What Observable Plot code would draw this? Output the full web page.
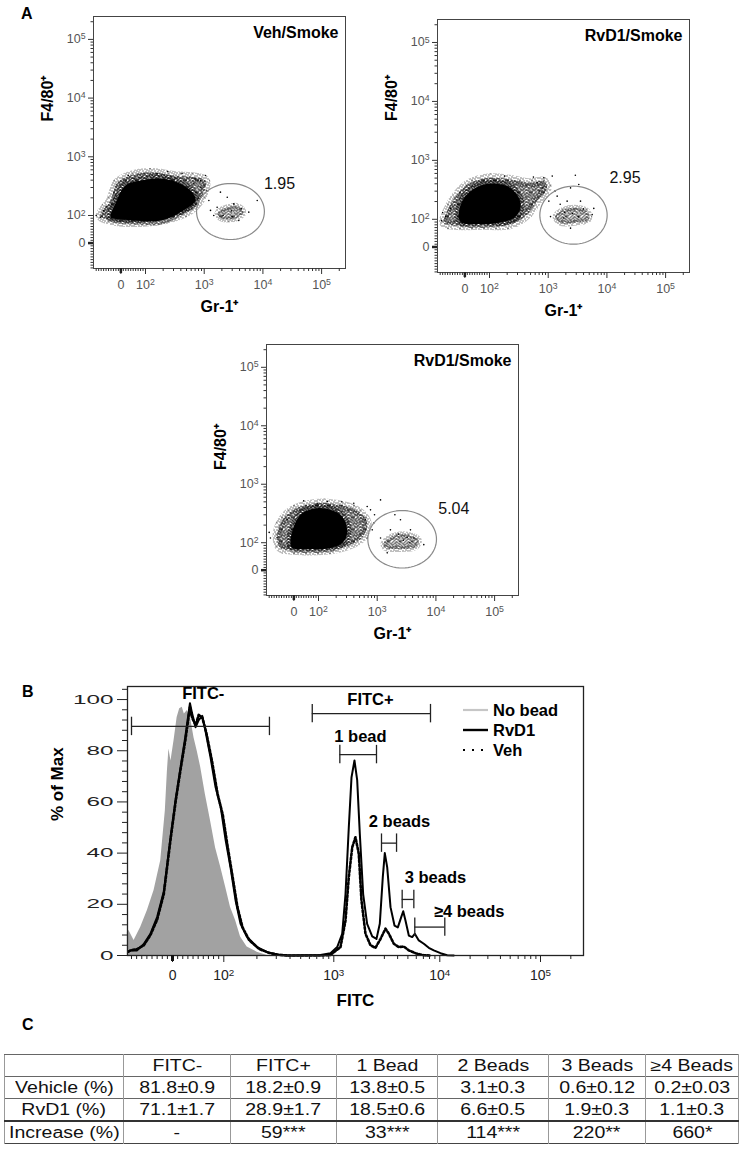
<!DOCTYPE html>
<html>
<head>
<meta charset="utf-8">
<script src="https://cdn.jsdelivr.net/npm/d3@7"></script>
<script src="https://cdn.jsdelivr.net/npm/@observablehq/plot@0.6"></script>
<style>
html,body{margin:0;padding:0;background:#fff;}
#root{position:relative;width:742px;height:1149px;overflow:hidden;font-family:"Liberation Sans",Arial,sans-serif;color:#000;}
.plabel{position:absolute;font-weight:bold;font-size:16px;line-height:16px;}
.leg{position:absolute;left:493px;font-weight:bold;font-size:16.5px;line-height:20px;white-space:nowrap;}
#tbl{position:absolute;left:4px;top:1054px;width:734px;border-collapse:collapse;table-layout:fixed;border:1px solid #444;}
#tbl td{padding:0;height:21px;line-height:21px;text-align:center;font-size:16px;color:#111;border-left:1px solid #999;border-right:1px solid #999;border-top:1px solid #666;white-space:nowrap;overflow:visible;}
#tbl tr.thick td{border-bottom:2px solid #333;}
#tbl td span{display:inline-block;transform:scaleX(1.22);transform-origin:50% 50%;}
</style>
</head>
<body>
<svg width="0" height="0" style="position:absolute">
  <defs>
    <pattern id="speckA" width="12" height="12" patternUnits="userSpaceOnUse"><path id="pA" fill="#000"/></pattern>
    <pattern id="speckB" width="12" height="12" patternUnits="userSpaceOnUse"><path id="pB" fill="#000"/></pattern>
  </defs>
</svg>
<div id="root"></div>
<script>
// ---------------- DATA ----------------
// Panel A: Gr-1 (x) vs F4/80 (y) intensities
const core1 = [[-42,94],[-22,160],[19,324],[80,394],[180,427],[347,369],[624,250],[711,180],[444,122],[180,82],[51,82],[-30,89]];
const halo1 = [[-83,100],[-42,180],[-14,365],[51,499],[137,540],[300,480],[769,444],[1050,394],[973,237],[658,137],[300,93],[80,75],[-42,82]];
const cluster1 = [[1680,108],[2400,137],[3840,142],[4670,112],[3410,89],[1970,89]];
const dots1 = [[925,218],[1200,180],[1455,100],[1890,250],[3190,158],[5750,114],[3880,82],[2470,205],[1280,122],[8000,180],[865,394],[1050,480],[665,355],[158,513],[-83,94],[510,303],[1660,138],[-60,140],[30,480],[700,420],[-100,100],[-70,120],[240,560],[420,520],[880,300],[1100,260],[2900,120],[2100,100],[4300,130],[3000,95]];
const gate1 = {x1: 740, x2: 10600, y1: 13, y2: 351};
const gateLabel1 = {text: "1.95", x: 19200, y: 351};

const core2 = [[-25,105],[-11,203],[23,300],[77,390],[135,399],[228,341],[316,231],[337,156],[260,105],[135,87],[50,83],[-11,87]];
const halo2 = [[-85,87],[-72,137],[-31,264],[23,415],[104,505],[228,474],[499,415],[841,444],[961,341],[649,203],[438,120],[228,81],[64,78],[-45,78]];
const cluster2 = [[1330,111],[1840,145],[3120,156],[4610,137],[4920,100],[2730,87],[1620,87]];
const dots2 = [[841,505],[649,415],[1170,540],[790,341],[1025,203],[1420,247],[2100,203],[2400,341],[3320,390],[3550,203],[5980,153],[5610,120],[1840,105],[1095,111],[2400,68],[-78,111],[-58,153],[2900,560],[700,300],[-95,95],[-90,130],[180,540],[560,520],[1300,300],[1600,180],[4000,150],[2600,125],[3300,110],[1900,130]];
const gate2 = {x1: 720, x2: 10100, y1: 10, y2: 365};
const gateLabel2 = {text: "2.95", x: 20300, y: 505};

const core3 = [[-14,99],[0,190],[34,321],[95,390],[160,365],[253,281],[308,166],[270,105],[160,81],[54,77],[-7,81]];
const halo3 = [[-68,123],[-54,217],[-14,341],[54,444],[141,474],[308,415],[519,321],[675,217],[555,123],[351,93],[160,74],[14,72],[-54,81]];
const cluster3 = [[1295,99],[1920,131],[3240,137],[5100,111],[4490,84],[2190,77],[1380,81]];
const dots3 = [[-68,123],[-95,120],[-27,247],[95,474],[141,505],[399,474],[675,415],[769,365],[1140,540],[875,217],[822,166],[675,120],[1140,120],[1680,166],[2490,247],[3690,166],[6220,93],[4200,120],[1480,63],[630,247],[3240,123],[-100,150],[40,520],[250,500],[900,300],[2000,300],[2800,110],[3600,100],[2300,140]];
const gate3 = {x1: 692, x2: 10230, y1: 8, y2: 355};
const gateLabel3 = {text: "5.04", x: 20200, y: 379};

const panelTitles = ["Veh/Smoke", "RvD1/Smoke", "RvD1/Smoke"];
const flowTickValues = [0, 100, 1000, 10000, 100000];
const flowTickLabels = ["0", "10^2", "10^3", "10^4", "10^5"];

// Panel B: FITC histograms [FITC value, % of max]
const noBead = [[-88,9],[-85,9.8],[-75,5.9],[-62,11],[-49,17.6],[-36,25.4],[-23,37],[-14,56.6],[-10,72],[-7,80.7],[-3,76],[3,84],[9,93],[14,96.4],[19,97],[23,94.4],[29,95.7],[35,93],[42,85],[48,80],[55,73.5],[64,63],[74,52.7],[84,42],[94,34.5],[104,26.7],[115,18.9],[128,13.7],[142,7.2],[163,3.3],[201,1.3],[248,0]];
const rvd1 = [[-86,1.5],[-82,2],[-69,2],[-56,4.5],[-43,8.5],[-30,15],[-17,25],[-4,46],[6,61],[16,74],[25,85.5],[34,98.6],[38,94.7],[45,89.2],[51,92],[58,93.6],[64,88],[74,77.5],[84,65.7],[94,58],[104,45],[115,34.5],[128,21.5],[142,12.4],[163,7.2],[201,3.3],[248,1.3],[305,0.4],[377,0],[757,0.2],[933,0.9],[1077,3.3],[1200,8.5],[1290,24],[1385,50],[1469,69.6],[1567,76.2],[1662,68.5],[1759,47.6],[1892,24],[2063,12.4],[2303,7.5],[2528,6.5],[2716,12.4],[2899,30.6],[3028,40],[3189,34.5],[3428,18.9],[3738,11.7],[4018,11],[4325,15],[4518,17.3],[4744,13.7],[5102,7.8],[5492,7.2],[5808,8.5],[6337,5.9],[7066,4.6],[7875,3],[8777,2],[10160,0.9],[11840,0.1],[13770,0]];
const veh = [[-86,1.5],[-82,2],[-69,2.5],[-56,4],[-43,8],[-30,14],[-17,24],[-4,45],[6,60],[16,73],[25,84],[34,97],[38,93],[45,90],[51,94],[58,93],[66,87],[77,76],[88,63],[98,55],[108,43],[120,31],[133,19],[148,11],[170,6],[210,2.5],[260,1],[320,0.2],[400,0],[757,0],[933,0.2],[1157,3.3],[1290,13.7],[1385,30.6],[1493,42.3],[1601,46.2],[1721,39.7],[1824,21.5],[1990,8.5],[2220,4],[2472,3],[2760,6.5],[3076,10.5],[3306,8.5],[3681,4.6],[4101,3.3],[4571,3.5],[5102,2],[5902,0.9],[7066,0.1],[8000,0]];
// Gates: bracket from x1 to x2 at y (%), label centre lx and baseline ly (%)
const gateNames = ["FITC-", "FITC+", "1 bead", "2 beads", "3 beads", "≥4 beads"];
const gateX1 = [-80, 637, 1140, 2818, 4416, 5808];
const gateX2 = [260, 8170, 2528, 3908, 5689, 11210];
const gateY = [89.5, 94.5, 78.5, 43.9, 21.9, 11.1];
const gateLabelX = [60, 2220, 1786, 4170, 9100, 19590];
const gateLabelY = [100.4, 97.7, 83.6, 50.1, 28.2, 15.2];
const histYTicks = [0, 20, 40, 60, 80, 100];
const legendNames = ["No bead", "RvD1", "Veh"];

// Panel C table
const tblHeader = ["", "FITC-", "FITC+", "1 Bead", "2 Beads", "3 Beads", "≥4 Beads"];
const vehMean = [81.8, 18.2, 13.8, 3.1, 0.6, 0.2];
const vehSem = [0.9, 0.9, 0.5, 0.3, 0.12, 0.03];
const rvdMean = [71.1, 28.9, 18.5, 6.6, 1.9, 1.1];
const rvdSem = [1.7, 1.7, 0.6, 0.5, 0.3, 0.3];
const increase = ["-", "59***", "33***", "114***", "220**", "660*"];

// ---------------- HELPERS ----------------
const FONT = '"Liberation Sans", Arial, sans-serif';
const root = document.getElementById("root");
const ax = v => v >= 100 ? Math.log10(v) : 1.58 + 0.0042 * v;
const ay = v => v >= 100 ? Math.log10(v) : 1.53 + 0.0047 * v;
const uB = v => v >= 100 ? Math.log10(v) : 1.5 + 0.005 * v;

// speckle textures (irregular 12x12 tiles), rows list the filled pixel columns
const speckRowsA = [[0,3,4,8,11],[1,5,7,10],[2,3,6,9,11],[0,4,7,8],[1,2,5,10,11],[3,6,8,9],[0,4,5,7,11],[1,2,8,10],[3,5,6,9],[0,2,7,8,11],[1,4,6,10],[2,3,5,9]];
const speckRowsB = [[0,5,9],[2,7],[4,10],[1,6],[3,8,11],[0,5],[7,10],[2,4],[9],[1,6,11],[3,8],[5]];
function speckPath(rows){ return rows.flatMap((cols, y) => cols.map(x => `M${x} ${y}h1v1h-1z`)).join(""); }
document.getElementById("pA").setAttribute("d", speckPath(speckRowsA));
document.getElementById("pB").setAttribute("d", speckPath(speckRowsB));

function superscripts(svg){
  svg.querySelectorAll("text").forEach(t => {
    const m = /^10\^(\d)$/.exec(t.textContent);
    if (m) {
      t.textContent = "10";
      const ts = document.createElementNS("http://www.w3.org/2000/svg", "tspan");
      ts.setAttribute("dy", "-0.45em");
      ts.setAttribute("font-size", "70%");
      ts.textContent = m[1];
      t.appendChild(ts);
    }
  });
}
function place(el, left, top){ el.style.position = "absolute"; el.style.left = left + "px"; el.style.top = top + "px"; root.appendChild(el); }

const logMinor = [];
for (const n of [2,3,4]) for (let k = 2; k <= 9; k++) logMinor.push(k * 10 ** n);
logMinor.push(200000);

function flowPlot(o){
  const frameW = 252, mR = 24, mB = 56;
  const xMinor = [-100,-90,-80,-70,-60,-50,-40,-30,-20,-10,10,20,30,40,50,60,70,80,90].concat(logMinor).map(ax);
  const yMinor = [-90,-80,-70,-60,-50,-40,-30,-20,-10,10,20,30,40,50,60,70,80,90].concat(logMinor).map(ay);
  const xLab = new Map(flowTickValues.map((v,i) => [ax(v), flowTickLabels[i]]));
  const yLab = new Map(flowTickValues.map((v,i) => [ay(v), flowTickLabels[i]]));
  const cx = (ax(o.gate.x1) + ax(o.gate.x2)) / 2, rx = (ax(o.gate.x2) - ax(o.gate.x1)) / 2;
  const cy = (ay(o.gate.y1) + ay(o.gate.y2)) / 2, ry = (ay(o.gate.y2) - ay(o.gate.y1)) / 2;
  const ell = d3.range(0, 72).map(i => ({x: cx + rx * Math.cos(i / 72 * 2 * Math.PI), y: cy + ry * Math.sin(i / 72 * 2 * Math.PI)}));
  const P = {x: d => ax(d[0]), y: d => ay(d[1])};
  const fig = Plot.plot({
    width: o.mL + frameW + mR, height: o.mT + o.frameH + mB,
    marginLeft: o.mL, marginTop: o.mT, marginRight: mR, marginBottom: mB,
    x: {domain: [1.114, 5.407]}, y: {domain: [1.097, 5.39]},
    style: {fontFamily: FONT, fontSize: "12px", background: "transparent", overflow: "visible"},
    marks: [
      Plot.line(o.halo, {...P, curve: "catmull-rom-closed", fill: "url(#speckB)", stroke: "url(#speckB)", strokeWidth: 9}),
      Plot.line(o.halo, {...P, curve: "catmull-rom-closed", fill: "url(#speckA)", stroke: "none"}),
      Plot.line(o.cluster, {...P, curve: "catmull-rom-closed", fill: "url(#speckA)", stroke: "url(#speckB)", strokeWidth: 6}),
      Plot.line(o.core, {...P, curve: "catmull-rom-closed", fill: "#000", stroke: "url(#speckA)", strokeWidth: 8}),
      Plot.dot(o.dots, {...P, r: 0.8, fill: "#000", stroke: "none"}),
      Plot.line(ell, {x: "x", y: "y", curve: "linear-closed", stroke: "#8a8a8a", strokeWidth: 1.2}),
      Plot.text([o.gateLabel], {x: d => ax(d.x), y: d => ay(d.y), text: d => d.text, fontSize: 16, fill: "#111"}),
      Plot.frame({stroke: "#444"}),
      Plot.axisX({ticks: flowTickValues.map(ax), tickFormat: d => xLab.get(d), tickSize: 6, tickPadding: 6, fontSize: 12.5, fill: "#555", stroke: "#333", label: null}),
      Plot.axisX({ticks: xMinor, tickSize: 3, fill: "none", stroke: "#333", label: null}),
      Plot.axisX({ticks: [ax(0)], tickSize: 5, strokeWidth: 2.5, fill: "none", stroke: "#222", label: null}),
      Plot.axisY({ticks: flowTickValues.map(ay), tickFormat: d => yLab.get(d), tickSize: 5, tickPadding: 3, fontSize: 12.5, fill: "#555", stroke: "#333", label: null}),
      Plot.axisY({ticks: yMinor, tickSize: 2.5, fill: "none", stroke: "#333", label: null}),
      Plot.axisY({ticks: [ay(0)], tickSize: 5, strokeWidth: 2.5, fill: "none", stroke: "#222", label: null}),
      Plot.text([o.title], {frameAnchor: "top-right", dx: -7, dy: 10, textAnchor: "end", lineAnchor: "top", fontWeight: "bold", fontSize: 16, fill: "#000"}),
      Plot.text(["Gr-1⁺"], {frameAnchor: "bottom", dy: 43, fontWeight: "bold", fontSize: 16, fill: "#000"}),
      Plot.text(["F4/80⁺"], {frameAnchor: "left", dx: -46, dy: o.yLabDy, rotate: -90, fontWeight: "bold", fontSize: 16, fill: "#000"})
    ]
  });
  superscripts(fig);
  place(fig, o.left, o.top);
}

flowPlot({left: 0, top: 0, mL: 93, mT: 16, frameH: 252, title: panelTitles[0], core: core1, halo: halo1, cluster: cluster1, dots: dots1, gate: gate1, gateLabel: gateLabel1, yLabDy: -21});
flowPlot({left: 370, top: 0, mL: 67, mT: 19, frameH: 253, title: panelTitles[1], core: core2, halo: halo2, cluster: cluster2, dots: dots2, gate: gate2, gateLabel: gateLabel2, yLabDy: -25});
flowPlot({left: 180, top: 325, mL: 86, mT: 19, frameH: 251, title: panelTitles[2], core: core3, halo: halo3, cluster: cluster3, dots: dots3, gate: gate3, gateLabel: gateLabel3, yLabDy: 0});

// ---------------- PANEL B ----------------
(function(){
  const gates = gateNames.map((n,i) => ({name: n, x1: gateX1[i], x2: gateX2[i], y: gateY[i], lx: gateLabelX[i], ly: gateLabelY[i]}));
  const ends = gates.flatMap(g => [{x: g.x1, y: g.y}, {x: g.x2, y: g.y}]);
  const xMajor = flowTickValues.map(uB);
  const xLab = new Map(flowTickValues.map((v,i) => [uB(v), flowTickLabels[i]]));
  const xMinor = [-80,-70,-60,-50,-40,-30,-20,-10,10,20,30,40,50,60,70,80,90].concat(logMinor).map(uB);
  const yMinor = d3.range(4, 105, 4).filter(v => v % 20 !== 0);
  const P = {x: d => uB(d[0]), y: d => d[1]};
  const fig = Plot.plot({
    width: 742, height: 355,
    marginLeft: 127, marginRight: 159, marginTop: 26, marginBottom: 60,
    x: {type: "linear", domain: [1.061, 2, 3, 4, 5, 5.427], range: [127, 223.3, 333.3, 439.3, 540, 583]},
    y: {domain: [0, 105.1]},
    style: {fontFamily: FONT, fontSize: "13px", background: "transparent", overflow: "visible"},
    marks: [
      Plot.areaY(noBead, {...P, fill: "#a2a2a2"}),
      Plot.line(veh, {...P, stroke: "#000", strokeWidth: 2.6, strokeDasharray: "2.2,2"}),
      Plot.line(rvd1, {...P, stroke: "#000", strokeWidth: 2}),
      Plot.ruleY(gates, {x1: d => uB(d.x1), x2: d => uB(d.x2), y: "y", stroke: "#222", strokeWidth: 1.3}),
      Plot.ruleX(ends, {x: d => uB(d.x), y1: d => d.y - 3.6, y2: d => d.y + 3.6, stroke: "#222", strokeWidth: 1.3}),
      Plot.text(gates, {x: d => uB(d.lx), y: "ly", text: "name", lineAnchor: "bottom", fontWeight: "bold", fontSize: 16.5, fill: "#000"}),
      Plot.frame({stroke: "#222", strokeWidth: 1.3}),
      Plot.axisX({ticks: xMajor, tickFormat: d => xLab.get(d), tickSize: 7, tickPadding: 8, fontSize: 14, fill: "#222", stroke: "#222", label: null}),
      Plot.axisX({ticks: xMinor, tickSize: 4, fill: "none", stroke: "#222", label: null}),
      Plot.axisX({ticks: [uB(0)], tickSize: 6, strokeWidth: 3, fill: "none", stroke: "#111", label: null}),
      Plot.axisY({ticks: histYTicks, tickSize: 10, tickPadding: 4, fontSize: 13, fill: "#222", stroke: "#222", label: null}),
      Plot.axisY({ticks: yMinor, tickSize: 5, fill: "none", stroke: "#222", label: null}),
      Plot.text(["% of Max"], {frameAnchor: "left", dx: -70, rotate: -90, fontWeight: "bold", fontSize: 17, fill: "#000"}),
      Plot.text(["FITC"], {frameAnchor: "bottom", dy: 50, fontWeight: "bold", fontSize: 17, fill: "#000"})
    ]
  });
  superscripts(fig);
  fig.querySelectorAll('g[aria-label="y-axis tick label"] text').forEach(t => {
    const n = t.textContent.length;
    if (n) { t.setAttribute("textLength", n * 13.5); t.setAttribute("lengthAdjust", "spacingAndGlyphs"); }
  });
  place(fig, 0, 660);

  // legend (HTML, above the SVG)
  const sw = document.createElementNS("http://www.w3.org/2000/svg", "svg");
  sw.setAttribute("width", 32); sw.setAttribute("height", 60);
  sw.innerHTML = '<line x1="3" x2="28" y1="10" y2="10" stroke="#c6c6c6" stroke-width="2.2"/>' +
                 '<line x1="3" x2="28" y1="30" y2="30" stroke="#000" stroke-width="2.4"/>' +
                 '<line x1="3" x2="28" y1="50" y2="50" stroke="#000" stroke-width="2" stroke-dasharray="2,7"/>';
  place(sw, 460, 700);
  legendNames.forEach((n,i) => { const d = document.createElement("div"); d.className = "leg"; d.style.top = (700 + 20*i) + "px"; d.textContent = n; root.appendChild(d); });
})();

// ---------------- PANEL LABELS ----------------
[["A", 21, 5.5], ["B", 22, 683.5], ["C", 22, 1016.5]].forEach(([t,x,y]) => { const d = document.createElement("div"); d.className = "plabel"; d.style.left = x + "px"; d.style.top = y + "px"; d.textContent = t; root.appendChild(d); });

// ---------------- PANEL C TABLE ----------------
(function(){
  const widths = [119,107,106,101,111,97,93];
  const rows = [
    tblHeader,
    ["Vehicle (%)"].concat(vehMean.map((m,i) => `${m}±${vehSem[i]}`)),
    ["RvD1 (%)"].concat(rvdMean.map((m,i) => `${m}±${rvdSem[i]}`)),
    ["Increase (%)"].concat(increase)
  ];
  const t = document.createElement("table"); t.id = "tbl";
  const cg = document.createElement("colgroup");
  widths.forEach(w => { const c = document.createElement("col"); c.style.width = w + "px"; cg.appendChild(c); });
  t.appendChild(cg);
  rows.forEach((r, ri) => {
    const tr = document.createElement("tr");
    if (ri === 2) tr.className = "thick";
    r.forEach(v => { const td = document.createElement("td"); const s = document.createElement("span"); s.textContent = v; td.appendChild(s); tr.appendChild(td); });
    t.appendChild(tr);
  });
  root.appendChild(t);
})();
</script>
</body>
</html>
